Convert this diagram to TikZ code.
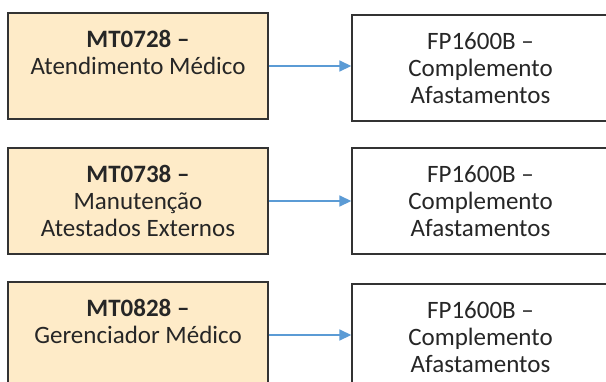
\documentclass[tikz,border=0pt]{standalone}
\usepackage{fontspec}
\setmainfont{Carlito}
\usepackage{xcolor}
\usetikzlibrary{arrows.meta}
\definecolor{boxline}{HTML}{333333}
\definecolor{boxcream}{HTML}{FEEBC8}
\definecolor{arrowblue}{HTML}{5B9BD5}
\definecolor{textdark}{HTML}{262626}

\begin{document}
\begin{tikzpicture}[x=1pt, y=-1pt,
    mt/.style={rectangle, minimum width=260pt, minimum height=106pt, draw=boxline, fill=boxcream, line width=1.4pt, text centered, align=center, text=textdark, font=\fontsize{25}{27}\selectfont},
    fp/.style={rectangle, minimum width=257pt, minimum height=106pt, draw=boxline, fill=white, line width=1.4pt, text centered, align=center, text=textdark, font=\fontsize{25}{27}\selectfont},
    arr/.style={-{Triangle[length=12pt, width=11pt]}, color=arrowblue, line width=1.6pt}
]
    \clip (0,0) rectangle (606,381);
    \fill[white] (0,0) rectangle (606,381);

    \node[mt] (mtA) at (138, 66) {\textbf{MT0728 --}\\Atendimento Médico\\\mbox{}};
    \node[mt] (mtB) at (138, 201) {\textbf{MT0738 --}\\Manutenção\\Atestados Externos};
    \node[mt] (mtC) at (138, 335) {\textbf{MT0828 --}\\Gerenciador Médico\\\mbox{}};

    \node[fp] (fpA) at (480.5, 68) {FP1600B --\\Complemento\\Afastamentos};
    \node[fp] (fpB) at (480.5, 201) {FP1600B --\\Complemento\\Afastamentos};
    \node[fp] (fpC) at (480.5, 337) {FP1600B --\\Complemento\\Afastamentos};

    \draw[arr] (mtA.east) -- (fpA.west |- mtA.east);
    \draw[arr] (mtB.east) -- (fpB.west |- mtB.east);
    \draw[arr] (mtC.east) -- (fpC.west |- mtC.east);
\end{tikzpicture}
\end{document}
